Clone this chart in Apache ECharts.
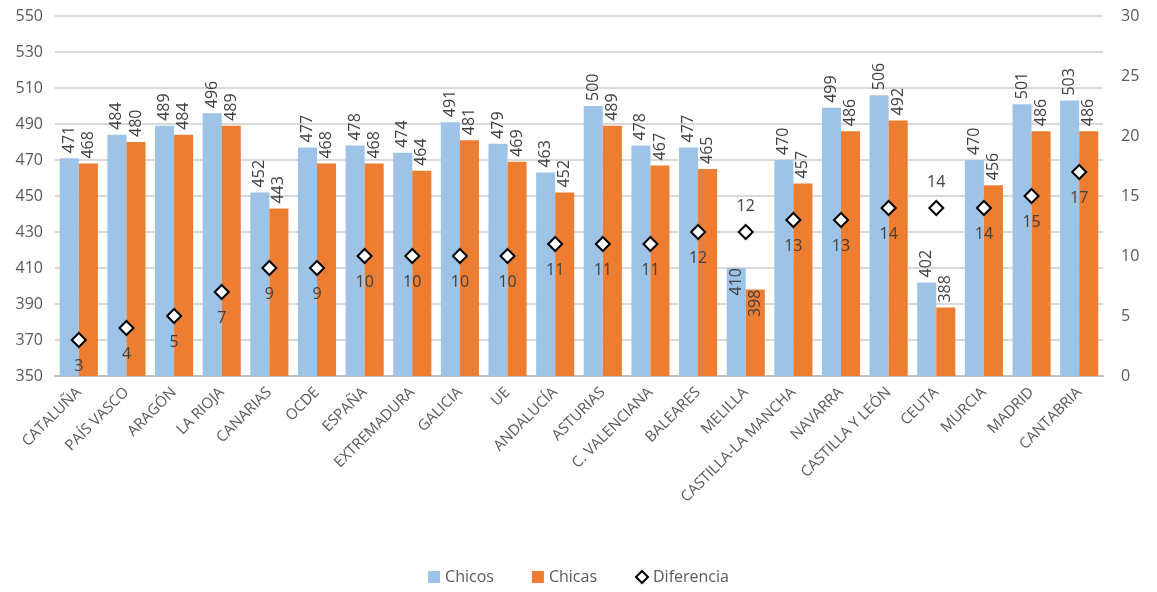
<!DOCTYPE html>
<html>
<head>
<meta charset="utf-8">
<script src="https://cdn.jsdelivr.net/npm/echarts@6/dist/echarts.min.js"></script>
<style>
	html, body { margin: 0; padding: 0; background: #fff; }
	#chart { width: 1157px; height: 592px; }
</style>
</head>
<body>
<div id="chart"></div>
<script>
var categories = ["CATALUÑA", "PAÍS VASCO", "ARAGÓN", "LA RIOJA", "CANARIAS", "OCDE", "ESPAÑA", "EXTREMADURA", "GALICIA", "UE", "ANDALUCÍA", "ASTURIAS", "C. VALENCIANA", "BALEARES", "MELILLA", "CASTILLA-LA MANCHA", "NAVARRA", "CASTILLA Y LEÓN", "CEUTA", "MURCIA", "MADRID", "CANTABRIA"];
var chicos = [471, 484, 489, 496, 452, 477, 478, 474, 491, 479, 463, 500, 478, 477, 410, 470, 499, 506, 402, 470, 501, 503];
var chicas = [468, 480, 484, 489, 443, 468, 468, 464, 481, 469, 452, 489, 467, 465, 398, 457, 486, 492, 388, 456, 486, 486];
var diferencia = [3, 4, 5, 7, 9, 9, 10, 10, 10, 10, 11, 11, 11, 12, 12, 13, 13, 14, 14, 14, 15, 17];
// categorías con la etiqueta de la diferencia por encima
var difLabelArriba = ["MELILLA", "CEUTA"];
// barras con la etiqueta dentro
var barLabelDentro = ["MELILLA"];

var chart = echarts.init(document.getElementById("chart"));
var textColor = "#404040";
var axisColor = "#595959";

function barData(values) {
	return values.map(function (v, i) {
		if (barLabelDentro.indexOf(categories[i]) >= 0) {
			return {
				value: v,
				label: { position: "insideTop", align: "right", distance: 0 }
			};
		}
		return v;
	});
}

var difData = diferencia.map(function (v, i) {
	if (difLabelArriba.indexOf(categories[i]) >= 0) {
		return { value: v, label: { position: "top", distance: 10 } };
	}
	return v;
});

var barLabel = {
	show: true,
	position: "top",
	rotate: 90,
	align: "left",
	verticalAlign: "middle",
	distance: 5,
	color: textColor,
	fontSize: 16,
	fontFamily: "Open Sans"
};

var option = {
	animation: false,
	textStyle: { fontFamily: "Open Sans" },
	grid: {
		left: 55,
		right: 54,
		top: 16,
		bottom: 216
	},
	legend: {
		bottom: 2,
		left: "center",
		itemGap: 38,
		itemWidth: 12,
		itemHeight: 12,
		textStyle: { color: axisColor, fontSize: 16, fontFamily: "Open Sans" },
		data: [
			{ name: "Chicos", icon: "rect" },
			{ name: "Chicas", icon: "rect" },
			{ name: "Diferencia", icon: "diamond", itemStyle: { color: "#fff", borderColor: "#000", borderWidth: 2 } }
		]
	},
	xAxis: {
		type: "category",
		data: categories,
		axisLine: { lineStyle: { color: "#BFBFBF", width: 2 } },
		axisTick: { show: false },
		axisLabel: {
			rotate: 45,
			interval: 0,
			color: axisColor,
			fontSize: 15,
			margin: 14
		}
	},
	yAxis: [
		{
			type: "value",
			min: 350,
			max: 550,
			interval: 20,
			axisLine: { show: false },
			axisTick: { show: false },
			axisLabel: { color: axisColor, fontSize: 16, margin: 12 },
			splitLine: { lineStyle: { color: "#D9D9D9", width: 2 } }
		},
		{
			type: "value",
			min: 0,
			max: 30,
			interval: 5,
			axisLine: { show: false },
			axisTick: { show: false },
			axisLabel: { color: axisColor, fontSize: 16, margin: 18 },
			splitLine: { show: false }
		}
	],
	series: [
		{
			name: "Chicos",
			type: "bar",
			barGap: "0%",
			barCategoryGap: "20%",
			itemStyle: { color: "#9DC3E6" },
			label: barLabel,
			data: barData(chicos)
		},
		{
			name: "Chicas",
			type: "bar",
			itemStyle: { color: "#ED7D31" },
			label: barLabel,
			data: barData(chicas)
		},
		{
			name: "Diferencia",
			type: "line",
			yAxisIndex: 1,
			symbol: "diamond",
			symbolSize: 14,
			lineStyle: { width: 0, opacity: 0 },
			itemStyle: { color: "#fff", borderColor: "#000", borderWidth: 2 },
			label: {
				show: true,
				position: "bottom",
				distance: 10,
				color: textColor,
				fontSize: 16
			},
			z: 5,
			data: difData
		}
	]
};

chart.setOption(option);
</script>
</body>
</html>
